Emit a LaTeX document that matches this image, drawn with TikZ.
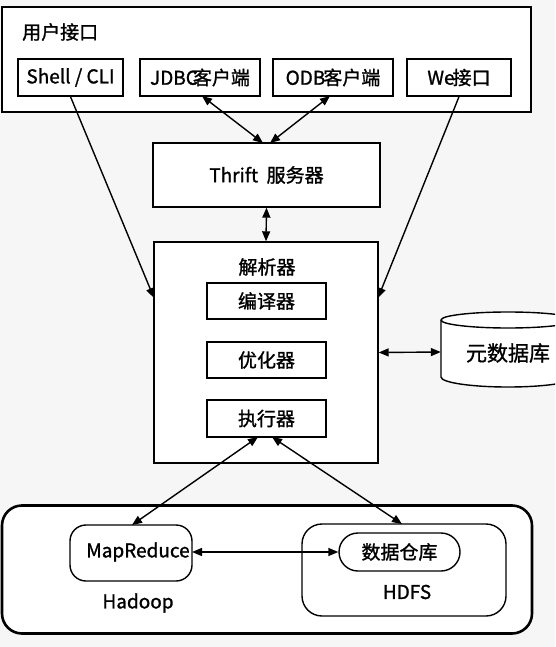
\documentclass[tikz,border=0pt]{standalone}
\usepackage{fontspec}
\setmainfont{Noto Sans CJK SC}[FakeBold=1.2]
\usetikzlibrary{arrows.meta}
\definecolor{bgc}{HTML}{F6F6F6}
\tikzset{
  box/.style={draw=black, line width=1.4pt, fill=white, inner sep=0pt, rectangle},
  rbox/.style={box, rounded corners=16pt},
  lbl/.style={inner sep=0pt, font=\fontsize{19}{22}\selectfont},
  con/.style={line width=1.4pt, -{Triangle[length=10pt,width=8pt]}},
  dcon/.style={line width=1.4pt, {Triangle[length=10pt,width=8pt]}-{Triangle[length=10pt,width=8pt]}},
}
\begin{document}
\begin{tikzpicture}[x=1pt,y=-1pt]
\useasboundingbox (0,0) rectangle (555,647);
\clip (0,0) rectangle (555,647);
\fill[bgc] (0,0) rectangle (555,647);

% user interface group
\node[box, minimum width=529pt, minimum height=105pt] (ui) at (266.5,59.5) {};
\node[lbl, anchor=west] (uilbl) at (22,32) {用户接口};
\node[box, lbl, minimum width=105pt, minimum height=37pt] (shell) at (70.5,77.5) {Shell / CLI};
\node[box, lbl, minimum width=120pt, minimum height=37pt] (jdbc) at (200,77.5) {JDBC\kern-5pt 客户端};
\node[box, lbl, minimum width=120pt, minimum height=37pt] (odbc) at (333,77.5) {ODB\kern-2pt 客户端};
\node[box, lbl, minimum width=104pt, minimum height=37pt] (web) at (459,77.5) {We\kern-2pt 接口};

% thrift
\node[box, lbl, minimum width=227pt, minimum height=64pt] (thrift) at (266.5,175) {Thrift\ \ 服务器};

% parser
\node[box, minimum width=224pt, minimum height=221pt] (parser) at (266,352.5) {};
\node[lbl] (parlbl) at (267,267) {解析器};
\node[box, lbl, minimum width=119pt, minimum height=36pt] (comp) at (266.5,301) {编译器};
\node[box, lbl, minimum width=119pt, minimum height=36pt] (opt) at (266.5,360) {优化器};
\node[box, lbl, minimum width=119pt, minimum height=37pt] (exec) at (266.5,418.5) {执行器};

% metastore cylinder
\node[inner sep=0pt, minimum width=134pt, minimum height=66pt] (meta) at (508,352) {};
\draw[line width=1.4pt, fill=white] (441,320) -- (441,377)
   arc[start angle=180, end angle=360, x radius=67pt, y radius=10pt] -- (575,320)
   arc[start angle=0, end angle=180, x radius=67pt, y radius=8pt] -- cycle;
\draw[line width=1.4pt] (441,320) arc[start angle=180, end angle=360, x radius=67pt, y radius=8pt];
\node[lbl, font=\fontsize{21}{24}\selectfont] (metalbl) at (508,353) {元数据库};

% hadoop
\node[box, line width=2.6pt, rounded corners=20pt, minimum width=530pt, minimum height=128pt] (hadoop) at (267,569.5) {};
\node[rbox, minimum width=122pt, minimum height=56pt] (mr) at (131,553) {};
\node[lbl] (mrlbl) at (138,552) {MapReduce};
\node[lbl] (hadooplbl) at (138,603) {Hadoop};
\node[rbox, rounded corners=20pt, minimum width=204pt, minimum height=92pt] (hdfs) at (404,570) {};
\node[box, lbl, rounded corners=19pt, minimum width=121pt, minimum height=38pt] (dw) at (399.5,552) {数据仓库};
\node[lbl] (hdfslbl) at (407,592) {HDFS};

% connector end points
\coordinate (pL) at (154,298);
\coordinate (pR) at (378,298);
\coordinate (tA) at (263,143);
\coordinate (tB) at (270,143);
\coordinate (jd) at (202,96);
\coordinate (od) at (330,96);
\coordinate (eA) at (258,437);
\coordinate (eB) at (272,437);
\coordinate (mrT) at (132,525);
\coordinate (hdT) at (402,524);
\coordinate (mrR) at (192,552);

\draw[con] (shell.south) -- (pL);
\draw[con] (web.south) -- (pR);
\draw[dcon] (jd) -- (tA);
\draw[dcon] (od) -- (tB);
\draw[dcon] (thrift.south) -- (parser.north);
\draw[dcon] (parser.east) -- (meta.west);
\draw[dcon] (eA) -- (mrT);
\draw[dcon] (eB) -- (hdT);
\draw[dcon] (mrR) -- (dw.west);
\end{tikzpicture}
\end{document}
